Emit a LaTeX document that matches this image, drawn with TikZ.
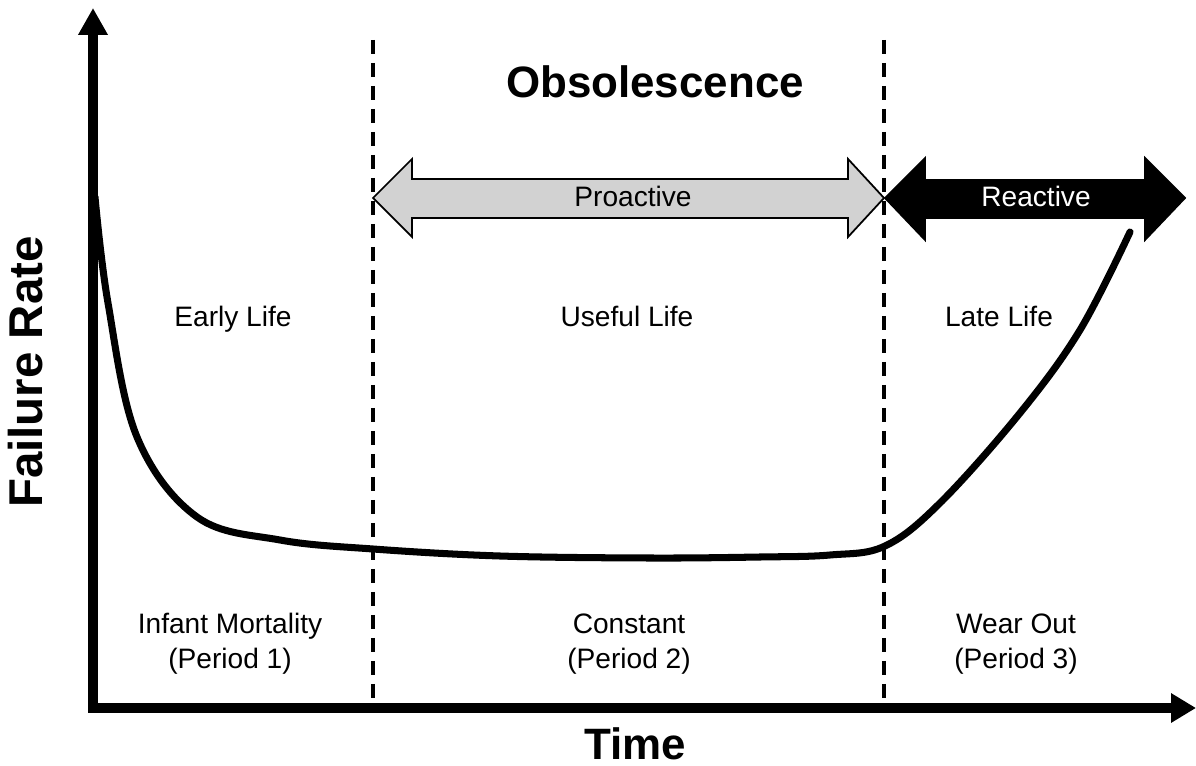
\documentclass[tikz,border=0pt]{standalone}
\usepackage{fontspec}
\setmainfont{Liberation Sans}
\usetikzlibrary{arrows.meta}
\definecolor{procolor}{RGB}{210,210,210}
\begin{document}
\begin{tikzpicture}[x=0.02cm,y=-0.02cm,
  axisline/.style={line width=5.4pt,line join=miter,
    {Triangle[width=0.56cm,length=0.54cm]}-{Triangle[width=0.56cm,length=0.5cm]}},
  divider/.style={line width=2.2pt,dash pattern=on 0.29cm off 0.17cm},
  curveline/.style={line width=4pt,line cap=round},
  label/.style={font=\fontsize{16}{19}\selectfont,anchor=base,align=center},
  bigtitle/.style={font=\fontsize{25}{30}\selectfont\bfseries,anchor=base},
  bandarrow/.style={draw=black,line width=1pt,line join=miter}]
\useasboundingbox (0,0) rectangle (1196,766);

% axes
\coordinate (ytip) at (93,8);
\coordinate (origin) at (93,708);
\coordinate (xtip) at (1196,708);
\draw[axisline] (ytip) -- (origin) -- (xtip);

% period dividers
\coordinate (d1top) at (373,40);
\coordinate (d1bot) at (373,706);
\coordinate (d2top) at (884,40);
\coordinate (d2bot) at (884,706);
\draw[divider] (d1top) -- (d1bot);
\draw[divider] (d2top) -- (d2bot);

% bathtub curve
\draw[curveline] plot[smooth,tension=0.6] coordinates {
  (95,197) (108,303) (137,437) (197,517)
  (280,540) (373,549) (500,556) (650,558) (760,557) (830,555)
  (885,546) (940,503) (1020,413) (1080,330) (1130,232)};

% proactive band arrow
\filldraw[bandarrow,fill=procolor]
  (373,198) -- (412,159) -- (412,179) -- (848,179) -- (848,159) -- (884,198)
  -- (848,237) -- (848,218) -- (412,218) -- (412,237) -- cycle;
% reactive band arrow
\filldraw[bandarrow,fill=black]
  (885,198) -- (925,158) -- (925,180) -- (1145,180) -- (1145,158) -- (1185,198)
  -- (1145,240) -- (1145,218) -- (925,218) -- (925,240) -- cycle;

\node[label] (pro) at (633,207) {Proactive};
\node[label,text=white] (rea) at (1036,207) {Reactive};

% titles
\node[bigtitle] (obs) at (655,98) {Obsolescence};
\node[bigtitle] (time) at (635,759) {Time};
\node[font=\fontsize{27}{32}\selectfont\bfseries,anchor=base,rotate=90] (fr) at (42,372) {Failure Rate};

% life phases
\node[label] (early) at (233,327) {Early Life};
\node[label] (useful) at (627,327) {Useful Life};
\node[label] (late) at (999,327) {Late Life};

% periods
\node[label] (p1a) at (230,633) {Infant Mortality};
\node[label] (p1b) at (230,668) {(Period 1)};
\node[label] (p2a) at (629,633) {Constant};
\node[label] (p2b) at (629,668) {(Period 2)};
\node[label] (p3a) at (1016,633) {Wear Out};
\node[label] (p3b) at (1016,668) {(Period 3)};
\end{tikzpicture}
\end{document}
